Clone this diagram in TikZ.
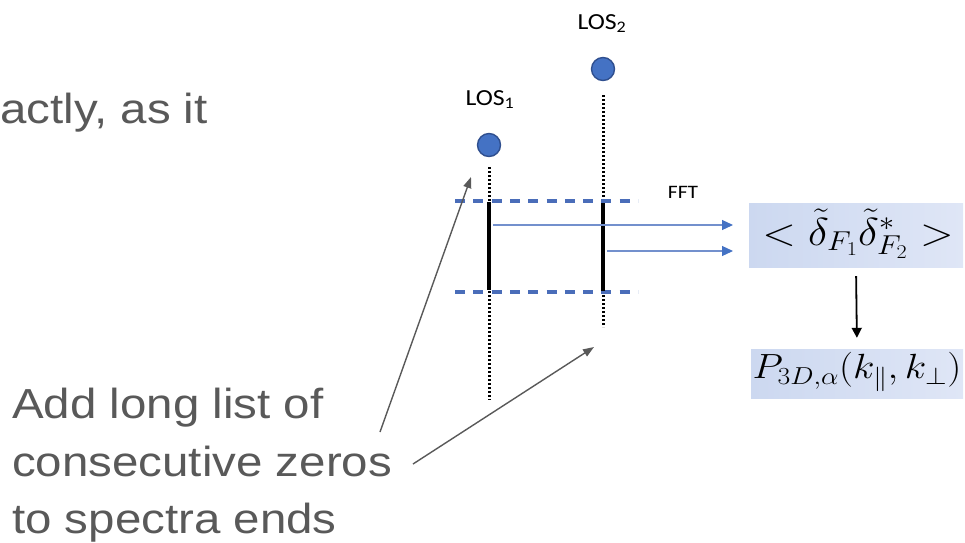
\RequirePackage{fix-cm}
\documentclass[tikz,border=0pt]{standalone}
\usepackage[no-math]{fontspec}
\setmainfont{Liberation Sans}
\newfontfamily\calib{Carlito}
\usetikzlibrary{arrows.meta}
\definecolor{txtgray}{HTML}{595959}
\definecolor{losblue}{HTML}{4472C4}
\definecolor{losedge}{HTML}{2F4F8F}
\definecolor{dashblue}{HTML}{4A6DB9}
\definecolor{arrblue}{HTML}{7390CD}
\definecolor{boxa}{HTML}{CCD8F0}
\definecolor{boxb}{HTML}{DFE6F6}
\begin{document}
\begin{tikzpicture}[x=1pt,y=-1pt,
  bigtext/.style={font=\fontsize{42}{57}\selectfont, text=txtgray, inner sep=0, anchor=base west, xscale=1.13},
  loslabel/.style={font=\calib\fontsize{23}{27}\selectfont, inner sep=0, anchor=base, xscale=1.12},
  losdot/.style={circle, fill=losblue, draw=losedge, line width=1.4pt, minimum size=23pt, inner sep=0},
  dotline/.style={line width=3pt, dash pattern=on 2.4pt off 1.6pt},
  seg/.style={line width=3.8pt},
  bluedash/.style={draw=dashblue, line width=3.4pt, dash pattern=on 10pt off 8.3pt},
  fftarrow/.style={draw=arrblue, line width=1.1pt, -{Triangle[length=11pt,width=10pt,color=losblue,fill=losblue]}},
  grayarrow/.style={txtgray, line width=1.4pt, -{Triangle[length=11pt,width=8pt]}},
  mathbox/.style={rectangle, left color=boxa, right color=boxb, inner sep=0},
]
\useasboundingbox (0,0) rectangle (965,542);

% left texts
\node[bigtext] (top) at (0,123) {actly, as it};
\node[bigtext] (n1) at (12,418) {Add long list of};
\node[bigtext] (n2) at (12,476) {consecutive zeros};
\node[bigtext] (n3) at (12,533) {to spectra ends};

% lines of sight
\node[loslabel] (lab2) at (602,29) {LOS\textsubscript{2}};
\node[loslabel] (lab1) at (490,105) {LOS\textsubscript{1}};
\node[losdot] (los2) at (603,69) {};
\node[losdot] (los1) at (489,145) {};

\draw[dotline] (489,167) -- (489,400);
\draw[dotline] (603,95) -- (603,327);

\draw[bluedash] (455,201) -- (638,201);
\draw[bluedash] (455,292) -- (638,292);

\draw[seg] (489,202) -- (489,290);
\draw[seg] (603,203) -- (603,291);

% FFT
\node[font=\calib\fontsize{19}{22}\selectfont, inner sep=0, anchor=base, xscale=1.13] (fft) at (683,198) {FFT};

\node[mathbox, minimum width=214pt, minimum height=64pt] (cross) at (856,235) {};
\node[inner sep=0, font=\fontsize{39}{44}\selectfont, xscale=1.13] (crosst) at (858,234)
  {$<\tilde{\delta}_{F_1}\tilde{\delta}^*_{F_2}>$};
\node[mathbox, minimum width=212pt, minimum height=49pt] (p3d) at (857,373.5) {};
\node[inner sep=0, font=\fontsize{35}{39}\selectfont, xscale=1.13] (p3dt) at (857,372)
  {$P_{3D,\alpha}(k_\parallel,k_\perp)$};

\coordinate (s1) at (493,225);
\coordinate (s2) at (607,251);
\coordinate (e1) at (733,225);
\coordinate (e2) at (733,251);
\draw[fftarrow] (s1) -- (e1);
\draw[fftarrow] (s2) -- (e2);

\draw[line width=1.8pt, -{Triangle[length=10pt,width=10pt]}, shorten <=9pt, shorten >=11pt] (cross.south) -- (p3d.north);

% annotation arrows
\coordinate (g1s) at (380,432);
\coordinate (g1e) at (471,177);
\coordinate (g2s) at (413,464);
\coordinate (g2e) at (594,347);
\draw[grayarrow] (g1s) -- (g1e);
\draw[grayarrow] (g2s) -- (g2e);
\end{tikzpicture}
\end{document}
